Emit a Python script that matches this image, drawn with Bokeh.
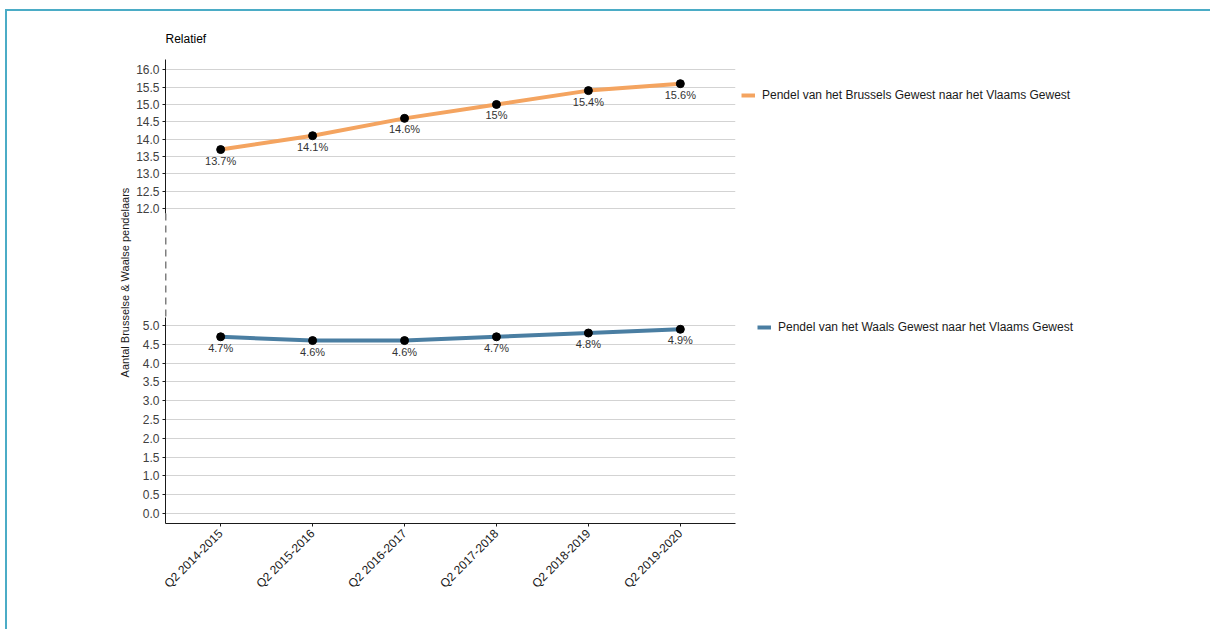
import math
from bokeh.plotting import figure
from bokeh.models import (Range1d, FactorRange, FixedTicker, Legend, LegendItem,
                          NumeralTickFormatter)
from bokeh.layouts import row, column
from bokeh.embed import file_html
from bokeh.resources import INLINE
from bokeh.core.properties import value

# ---------------- data ----------------
periods = ["Q2 2014-2015", "Q2 2015-2016", "Q2 2016-2017",
           "Q2 2017-2018", "Q2 2018-2019", "Q2 2019-2020"]
brussels_pct = [13.7, 14.1, 14.6, 15.0, 15.4, 15.6]
wallonia_pct = [4.7, 4.6, 4.6, 4.7, 4.8, 4.9]
series_names = ["Pendel van het Brussels Gewest naar het Vlaams Gewest",
                "Pendel van het Waals Gewest naar het Vlaams Gewest"]
upper_ticks = [12.0, 12.5, 13.0, 13.5, 14.0, 14.5, 15.0, 15.5, 16.0]
lower_ticks = [0.0, 0.5, 1.0, 1.5, 2.0, 2.5, 3.0, 3.5, 4.0, 4.5, 5.0]
panel_title = "Relatief"
y_title = "Aantal Brusselse & Waalse pendelaars"

brussels_labels = [f"{v:g}%" for v in brussels_pct]
wallonia_labels = [f"{v:g}%" for v in wallonia_pct]

# ---------------- style ----------------
FONT = "Liberation Sans"
ORANGE = "#F4A460"
BLUE = "#4A7EA2"
GRID = "#D3D3D3"
AXIS = "#1A1A1A"
TICKTXT = "#404040"

x_range = FactorRange(factors=periods, range_padding=0.1, range_padding_units="absolute")


def style_yaxis(p, ticks):
    ax = p.yaxis[0]
    ax.ticker = FixedTicker(ticks=ticks)
    ax.formatter = NumeralTickFormatter(format="0.0")
    ax.major_label_text_font = FONT
    ax.major_label_text_font_size = "12px"
    ax.major_label_text_color = TICKTXT
    ax.major_label_standoff = 3
    ax.major_tick_out = 3
    ax.major_tick_in = 0
    ax.minor_tick_line_color = None
    ax.axis_line_color = AXIS
    ax.major_tick_line_color = AXIS
    p.ygrid.ticker = FixedTicker(ticks=ticks)
    p.ygrid.grid_line_color = GRID
    p.xgrid.visible = False


def add_series(p, vals, labels, color):
    r = p.line(x=periods, y=vals, line_color=color, line_width=4)
    p.scatter(x=periods, y=vals, size=8, fill_color="black", line_color="black")
    p.text(x=periods, y=vals, text=labels, text_align="center", text_baseline="middle",
           y_offset=11, text_font=value(FONT), text_font_size="11px", text_color="#333333")
    return r


def make_legend(name, r, loc):
    return Legend(items=[LegendItem(label=name, renderers=[r])], location=loc,
                  glyph_width=14, glyph_height=14, label_standoff=7, padding=0, margin=0,
                  spacing=0, border_line_color=None, background_fill_alpha=0,
                  label_text_font=FONT, label_text_font_size="12px",
                  label_text_color="#1A1A1A")


# ---------------- upper panel (12 - 16, with the axis break below it) ----------------
up_start, up_axis_bottom, up_end = 8.858, 11.856, 16.297
up = figure(x_range=x_range, y_range=Range1d(up_start, up_end),
            frame_width=570, frame_height=258,
            min_border_left=30, min_border_right=460, min_border_top=48, min_border_bottom=0,
            x_axis_location=None, toolbar_location=None, output_backend="svg",
            outline_line_color=None, title=panel_title)
up.title.align = "left"
up.title.text_font = FONT
up.title.text_font_size = "12px"
up.title.text_font_style = "normal"
up.title.text_color = "#000000"
up.title.standoff = 28
style_yaxis(up, upper_ticks)
up.yaxis[0].bounds = (up_axis_bottom, up_end)
# dashed break marker of the gapped axis
up.segment(x0=[(periods[0], -0.6)], y0=[up_axis_bottom], x1=[(periods[0], -0.6)], y1=[up_start],
           line_color="#000000", line_width=1.5, line_dash="7 5")
r_up = add_series(up, brussels_pct, brussels_labels, ORANGE)
up.add_layout(make_legend(series_names[0], r_up, (6, 215)), "right")

# ---------------- lower panel (0 - 5) ----------------
low = figure(x_range=x_range, y_range=Range1d(-0.266, 5.213),
             frame_width=570, frame_height=206,
             min_border_left=30, min_border_right=460, min_border_top=0, min_border_bottom=106,
             toolbar_location=None, output_backend="svg", outline_line_color=None)
style_yaxis(low, lower_ticks)
xa = low.xaxis[0]
xa.major_label_orientation = math.pi / 4
xa.major_label_text_font = FONT
xa.major_label_text_font_size = "12px"
xa.major_label_text_color = "#1A1A1A"
xa.major_tick_out = 3
xa.major_tick_in = 0
xa.axis_line_color = AXIS
xa.major_tick_line_color = AXIS
r_low = add_series(low, wallonia_pct, wallonia_labels, BLUE)
low.add_layout(make_legend(series_names[1], r_low, (22, 189)), "right")

# ---------------- shared y-axis title ----------------
lab = figure(width=126, height=618, x_range=Range1d(0, 1), y_range=Range1d(0, 1),
             min_border_left=123, min_border_right=0, min_border_top=0, min_border_bottom=76,
             x_axis_location=None, toolbar_location=None, output_backend="svg",
             outline_line_color=None)
lab.grid.visible = False
la = lab.yaxis[0]
la.ticker = FixedTicker(ticks=[])
la.axis_line_color = None
la.major_tick_line_color = None
la.minor_tick_line_color = None
la.major_tick_out = 0
la.major_label_standoff = 0
la.axis_label = y_title
la.axis_label_standoff = 0
la.axis_label_text_font = FONT
la.axis_label_text_font_size = "11px"
la.axis_label_text_font_style = "normal"
la.axis_label_text_color = "#1A1A1A"

page = row(lab, column(up, low), margin=(9, 0, 0, 5),
           styles={"border-top": "2px solid #4BACC6", "border-left": "2px solid #4BACC6"})

open("out.html", "w").write(file_html(page, INLINE))
